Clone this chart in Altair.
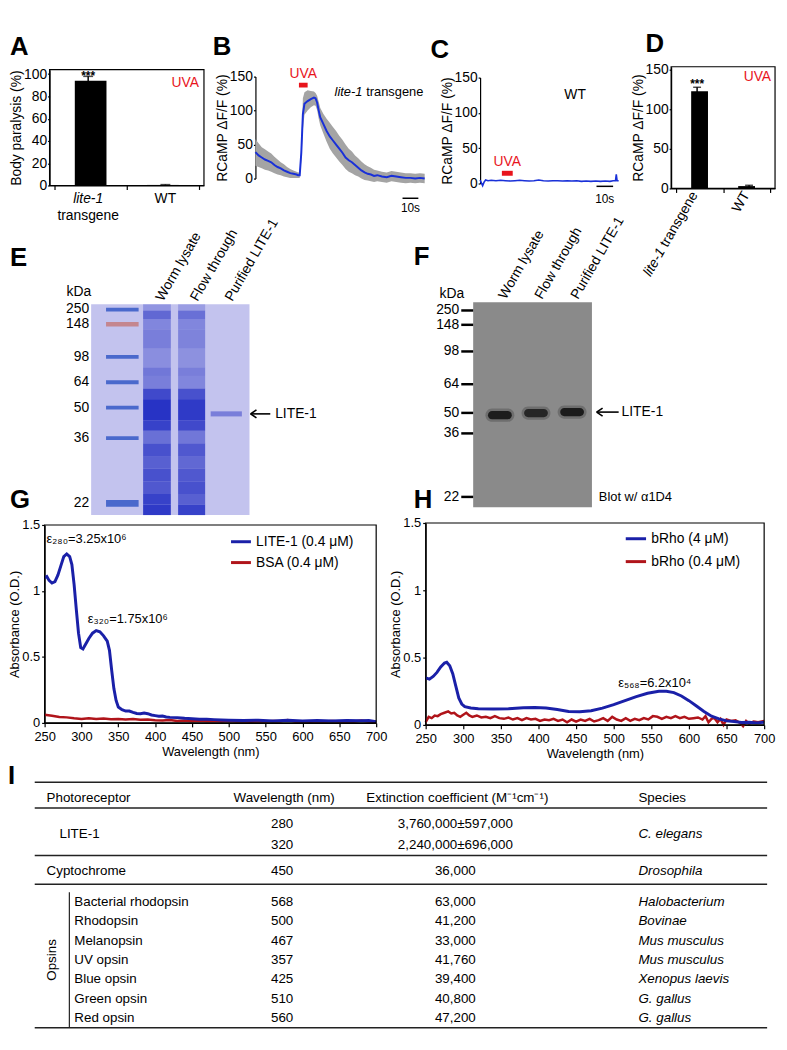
import altair as alt
import pandas as pd

W, H = 779, 1028
FONT = "Liberation Sans, Arial, Helvetica, sans-serif"
NARROW = "Liberation Sans Narrow, Arial Narrow, Liberation Sans, Arial, sans-serif"
UVA_RED = "#e8141c"
TRACE_BLUE = "#1930d8"
SPEC_BLUE = "#1a20a8"
SPEC_RED = "#b0141a"

# ------------------------------------------------------------------ data
# A: body paralysis (%)
a_groups = ["lite-1", "WT"]
a_paralysis = [94, 0.5]
a_sem = [4, 0.3]

# B: RCaMP dF/F trace, lite-1 transgene (time in s)
b_time = [0, 2, 4, 6, 8, 10, 12, 14, 16, 18, 20, 22, 24, 26, 27, 28, 29, 30, 31,
          33, 35, 37, 38, 39, 40, 41, 43, 45, 47, 49, 51, 53, 55, 57, 59, 61, 63,
          65, 67, 69, 71, 73, 75, 77, 80, 83, 86, 89, 92, 95, 98, 101, 104, 107]
b_mean = [39, 34, 31, 28, 26, 24, 20, 17, 15, 12, 10, 8, 7, 6, 5, 5, 38, 95, 110,
          114, 117, 119, 118, 112, 100, 90, 80, 70, 62, 56, 50, 44, 38, 31, 27, 24, 20,
          16, 12, 9, 7, 6, 4, 5, 3, 2, 4, 3, 2, 1, 1, 0, 1, 0]
b_upper = [58, 52, 46, 43, 40, 37, 32, 28, 24, 21, 17, 14, 12, 10, 9, 9, 50, 118, 127,
           130, 129, 128, 126, 122, 113, 104, 95, 88, 82, 76, 70, 63, 57, 50, 44, 40, 34,
           30, 25, 21, 18, 16, 13, 12, 10, 9, 11, 10, 9, 8, 8, 7, 8, 7]
b_lower = [19, 17, 15, 13, 12, 10, 8, 6, 5, 3, 2, 1, 1, 1, 1, 1, 26, 72, 94,
           100, 105, 108, 107, 101, 88, 78, 66, 54, 44, 37, 31, 25, 20, 14, 10, 8, 5,
           3, 0, -2, -3, -4, -5, -4, -5, -6, -4, -5, -6, -7, -6, -7, -6, -7]
b_uva = [27.5, 33.0]

# C: RCaMP dF/F trace, WT
c_time = [0, 0.8, 1.6, 2.5, 3.5, 5, 7, 10, 13, 16, 19, 22, 25, 28, 31, 34, 37, 40, 43,
          46, 49, 52, 55, 58, 61, 64, 67, 70, 73, 76, 79, 82, 84, 85.5, 86, 86.5, 87.5]
c_mean = [5, 1, -3, 2, 5, 4, 4.5, 4, 4.5, 4, 3.5, 4, 4.5, 4, 3.5, 4, 5, 4, 3.5,
          4, 4, 3.5, 4, 3.5, 4, 3, 3.5, 3, 3.5, 3, 3.5, 3, 4, 4, 13, 4, 4]
c_uva = [13.75, 20.6]

# D: peak RCaMP response
d_groups = ["lite-1", "WT"]
d_response = [123, 3]
d_sem = [5, 1]

# E / F: gels (relative migration 0 = top of gel, 1 = bottom)
marker_kda = ["250", "148", "98", "64", "50", "36", "22"]
e_marker_rf = [0.025, 0.095, 0.25, 0.37, 0.49, 0.635, 0.945]
f_marker_rf = [0.04, 0.11, 0.24, 0.40, 0.54, 0.64, 0.95]
lane_names = ["Worm lysate", "Flow through", "Purified LITE-1"]
e_lysate = [(0.00, 0.03, 0.30), (0.03, 0.07, 0.60), (0.07, 0.12, 0.40), (0.12, 0.21, 0.45),
            (0.21, 0.30, 0.35), (0.30, 0.34, 0.50), (0.34, 0.40, 0.45), (0.40, 0.45, 0.80),
            (0.45, 0.55, 0.95), (0.55, 0.60, 0.85), (0.60, 0.66, 0.55), (0.66, 0.72, 0.75),
            (0.72, 0.78, 0.65), (0.78, 0.84, 0.75), (0.84, 0.90, 0.70), (0.90, 0.95, 0.85),
            (0.95, 1.00, 0.90)]
e_flow = [(0.00, 0.03, 0.25), (0.03, 0.07, 0.55), (0.07, 0.12, 0.40), (0.12, 0.21, 0.42),
          (0.21, 0.30, 0.33), (0.30, 0.34, 0.45), (0.34, 0.40, 0.40), (0.40, 0.45, 0.75),
          (0.45, 0.55, 0.90), (0.55, 0.60, 0.80), (0.60, 0.66, 0.50), (0.66, 0.72, 0.70),
          (0.72, 0.78, 0.60), (0.78, 0.84, 0.70), (0.84, 0.90, 0.75), (0.90, 0.95, 0.65),
          (0.95, 1.00, 0.85)]
e_purified = [(0.508, 0.532, 0.45)]
e_lite1_rf = 0.52
f_band_rf = [0.551, 0.541, 0.536]
f_band_intensity = [0.92, 0.82, 0.95]
f_lite1_rf = 0.536

# G: absorbance spectra
g_wl_lite = [250, 253, 256, 260, 264, 268, 272, 276, 280, 284, 287, 290, 293, 296, 299, 302,
             306, 310, 315, 320, 325, 330, 335, 338, 341, 344, 347, 350, 355, 360, 365, 370,
             375, 380, 385, 390, 395, 400, 405, 410, 415, 420, 430, 440, 450, 460, 470, 480,
             490, 500, 520, 540, 560, 580, 600, 620, 640, 660, 680, 690, 700]
g_abs_lite = [1.10, 1.11, 1.08, 1.06, 1.07, 1.12, 1.19, 1.26, 1.28, 1.26, 1.20, 1.05, 0.86,
              0.68, 0.57, 0.56, 0.60, 0.64, 0.68, 0.70, 0.69, 0.66, 0.62, 0.55, 0.40, 0.26,
              0.17, 0.12, 0.10, 0.09, 0.09, 0.08, 0.072, 0.07, 0.075, 0.07, 0.06, 0.055, 0.05,
              0.052, 0.045, 0.042, 0.04, 0.035, 0.032, 0.028, 0.027, 0.025, 0.022, 0.02,
              0.018, 0.02, 0.015, 0.02, 0.015, 0.018, 0.014, 0.018, 0.016, 0.018, 0.01]
g_wl_bsa = [250, 260, 270, 280, 290, 300, 310, 320, 330, 340, 350, 360, 370, 380, 390, 400,
            410, 420, 430, 440, 450, 460, 470, 480, 490, 500, 510, 520, 530, 540, 550, 560,
            570, 580, 590, 600, 610, 620, 630, 640, 650, 660, 670, 680, 690, 700]
g_abs_bsa = [0.062, 0.055, 0.045, 0.042, 0.035, 0.03, 0.036, 0.03, 0.034, 0.028, 0.03, 0.026,
             0.03, 0.024, 0.026, 0.02, 0.018, 0.022, 0.014, 0.018, 0.012, 0.016, 0.012, 0.015,
             0.01, 0.014, 0.01, 0.012, 0.008, 0.012, 0.01, 0.014, 0.012, 0.022, 0.01, 0.012,
             0.008, 0.012, 0.01, 0.014, 0.01, 0.012, 0.01, 0.018, 0.01, 0.006]

# H: bRho spectra
h_wl_4 = [250, 255, 260, 265, 270, 275, 278, 282, 286, 290, 294, 298, 302, 310, 320, 340,
          360, 380, 395, 410, 425, 440, 455, 470, 485, 500, 515, 530, 545, 560, 570, 580,
          590, 600, 610, 620, 630, 640, 650, 660, 670, 680, 690, 700]
h_abs_4 = [0.35, 0.34, 0.36, 0.39, 0.43, 0.46, 0.465, 0.44, 0.38, 0.29, 0.20, 0.155, 0.135,
           0.125, 0.12, 0.118, 0.12, 0.128, 0.13, 0.125, 0.115, 0.10, 0.098, 0.105, 0.125,
           0.15, 0.18, 0.21, 0.235, 0.25, 0.25, 0.24, 0.215, 0.18, 0.14, 0.10, 0.065, 0.045,
           0.03, 0.025, 0.018, 0.02, 0.015, 0.02]
h_wl_04 = [250, 254, 258, 262, 266, 270, 275, 280, 284, 288, 292, 296, 300, 304, 308, 312,
           318, 324, 330, 336, 342, 348, 354, 360, 366, 372, 378, 384, 390, 396, 402, 408,
           414, 420, 426, 432, 438, 444, 450, 456, 462, 468, 474, 480, 486, 492, 498, 504,
           510, 516, 522, 528, 534, 540, 546, 552, 558, 564, 570, 576, 582, 588, 594, 600,
           606, 612, 618, 622, 626, 630, 634, 638, 642, 646, 650, 656, 662, 668, 672, 676,
           680, 686, 692, 700]
h_abs_04 = [0.02, 0.06, 0.05, 0.07, 0.065, 0.08, 0.09, 0.10, 0.085, 0.09, 0.07, 0.06, 0.075,
            0.09, 0.07, 0.06, 0.07, 0.055, 0.06, 0.05, 0.065, 0.05, 0.045, 0.055, 0.04, 0.05,
            0.035, 0.05, 0.04, 0.045, 0.03, 0.04, 0.035, 0.045, 0.03, 0.04, 0.02, 0.04, 0.025,
            0.04, 0.03, 0.045, 0.025, 0.035, 0.05, 0.03, 0.06, 0.04, 0.03, 0.05, 0.03, 0.045,
            0.035, 0.05, 0.04, 0.065, 0.06, 0.045, 0.06, 0.05, 0.065, 0.05, 0.06, 0.045, 0.05,
            0.055, 0.04, 0.065, 0.02, 0.045, 0.05, 0.02, 0.045, 0.0, 0.04, 0.03, 0.035, 0.015,
            -0.01, 0.03, 0.01, 0.025, 0.02, 0.03]

# I: table
table_header = ["Photoreceptor", "Wavelength (nm)", "Extinction coefficient (M\u207b\u00b9cm\u207b\u00b9)", "Species"]
lite_wavelength = ["280", "320"]
lite_coefficient = ["3,760,000\u00b1597,000", "2,240,000\u00b1696,000"]
lite_species = "C. elegans"
cry_row = ["Cyptochrome", "450", "36,000", "Drosophila"]
opsin_names = ["Bacterial rhodopsin", "Rhodopsin", "Melanopsin", "UV opsin", "Blue opsin",
               "Green opsin", "Red opsin"]
opsin_wavelength = ["568", "500", "467", "357", "425", "510", "560"]
opsin_coefficient = ["63,000", "41,200", "33,000", "41,760", "39,400", "40,800", "47,200"]
opsin_species = ["Halobacterium", "Bovinae", "Mus musculus", "Mus musculus", "Xenopus laevis",
                 "G. gallus", "G. gallus"]


# ------------------------------------------------------------------ helpers
def S(domain, rng):
    return alt.Scale(domain=list(domain), range=list(rng), nice=False, zero=False)


def X(field, sc, axis=None):
    return alt.X(f"{field}:Q", scale=sc, axis=axis)


def Y(field, sc, axis=None):
    return alt.Y(f"{field}:Q", scale=sc, axis=axis)


def texts(xs, ys, xv, yv, labels, **mk):
    df = pd.DataFrame({"x": xv, "y": yv, "label": labels})
    return alt.Chart(df).mark_text(**mk).encode(x=X("x", xs), y=Y("y", ys), text="label:N")


def rects(xs, ys, x1, x2, y1, y2, opacity=None, **mk):
    df = pd.DataFrame({"x": x1, "x2": x2, "y": y1, "y2": y2})
    enc = dict(x=X("x", xs), x2="x2:Q", y=Y("y", ys), y2="y2:Q")
    if opacity is not None:
        df["o"] = opacity
        enc["opacity"] = alt.Opacity("o:Q", scale=None)
    return alt.Chart(df).mark_rect(**mk).encode(**enc)


def hrules(xs, ys, x1, x2, yv, **mk):
    df = pd.DataFrame({"x": x1, "x2": x2, "y": yv})
    return alt.Chart(df).mark_rule(**mk).encode(x=X("x", xs), x2="x2:Q", y=Y("y", ys))


def vrules(xs, ys, xv, y1, y2, **mk):
    df = pd.DataFrame({"x": xv, "y": y1, "y2": y2})
    return alt.Chart(df).mark_rule(**mk).encode(x=X("x", xs), y=Y("y", ys), y2="y2:Q")


def frame(xs, ys, xd, yd):
    return rects(xs, ys, [xd[0]], [xd[1]], [yd[0]], [yd[1]],
                 fillOpacity=0, stroke="black", strokeWidth=1.2)


def left_axis(xpix, values, title, fmt=None, **kw):
    kw.update(orient="left", offset=-xpix, values=values, title=title, grid=False)
    if fmt:
        kw["format"] = fmt
    return alt.Axis(**kw)


def bottom_axis(ypix, values, title=None, labels=True, **kw):
    kw.update(orient="bottom", offset=ypix - H, values=values, title=title,
              labels=labels, grid=False, labelFlush=False, labelOverlap=False)
    return alt.Axis(**kw)


TOP_AXIS = dict(labelFontSize=14, titleFontSize=14, tickSize=2, labelPadding=1, titlePadding=0)
SPEC_Y = dict(labelFontSize=13, titleFontSize=13, tickSize=3, labelPadding=2, titlePadding=0)
SPEC_X = dict(labelFontSize=13, titleFontSize=13, tickSize=4, labelPadding=4, titlePadding=2)

ARROW = "M0,0L1.2,-0.8M0,0L1.2,0.8"


def arrow(xs, ys, x_tip, x_end, yv):
    head = alt.Chart(pd.DataFrame({"x": [x_tip], "y": [yv]})).mark_point(
        shape=ARROW, filled=False, stroke="black", strokeWidth=1.6, size=100, opacity=1
    ).encode(x=X("x", xs), y=Y("y", ys))
    return [hrules(xs, ys, [x_tip], [x_end], [yv], color="black", strokeWidth=1.6), head]


parts = []

# ------------------------------------------------------------------ panel A
xA, yA = S([0.5, 2.5], [42, 198]), S([0, 104], [174, 57])
dfA = pd.DataFrame({"x": [1, 2], "y": a_paralysis,
                    "lo": [v - e for v, e in zip(a_paralysis, a_sem)],
                    "hi": [v + e for v, e in zip(a_paralysis, a_sem)]})
parts += [
    alt.Chart(dfA).mark_bar(color="black", size=32, orient="vertical").encode(
        x=X("x", xA, bottom_axis(174, [0.5, 1.5, 2.5], labels=False, tickSize=4)),
        y=Y("y", yA, left_axis(42, [0, 20, 40, 60, 80, 100], "Body paralysis (%)", **TOP_AXIS))),
    alt.Chart(dfA).mark_rule(color="black", strokeWidth=1.5).encode(x=X("x", xA), y=Y("lo", yA), y2="hi:Q"),
    alt.Chart(dfA).mark_tick(color="black", orient="horizontal", size=10, thickness=1.5).encode(
        x=X("x", xA), y=Y("hi", yA)),
    texts(xA, yA, [1], [dfA["hi"][0]], ["***"], baseline="alphabetic", dy=4, fontSize=12, fontWeight="bold"),
    texts(xA, yA, [1], [0], [a_groups[0]], fontStyle="italic", fontSize=14, dy=14),
    texts(xA, yA, [1], [0], ["transgene"], fontSize=14, dy=31),
    texts(xA, yA, [2], [0], [a_groups[1]], fontSize=14, dy=14),
    texts(xA, yA, [2.5], [104], ["UVA"], align="right", dx=-5, dy=13, fontSize=14, color=UVA_RED),
    frame(xA, yA, [0.5, 2.5], [0, 104]),
]

# ------------------------------------------------------------------ panel B
xB, yB = S([0, 107], [250, 421]), S([0, 150], [167, 64])
dfB = pd.DataFrame({"t": b_time, "m": b_mean, "u": b_upper, "l": b_lower})
parts += [
    alt.Chart(dfB).mark_area(color="#a4a4a4").encode(
        x=X("t", xB),
        y=Y("u", yB, left_axis(250, [0, 50, 100, 150], "RCaMP \u0394F/F (%)", **TOP_AXIS)), y2="l:Q"),
    alt.Chart(dfB).mark_line(color=TRACE_BLUE, strokeWidth=2).encode(x=X("t", xB), y=Y("m", yB)),
    rects(xB, yB, [b_uva[0]], [b_uva[1]], [134], [141], color=UVA_RED),
    texts(xB, yB, [sum(b_uva) / 2], [142], ["UVA"], baseline="bottom", dy=-1, fontSize=14, color=UVA_RED),
    texts(xB, yB, [50], [127], ["lite-1"], align="left", fontStyle="italic", fontSize=13),
    texts(xB, yB, [50], [127], ["transgene"], align="left", dx=32, fontSize=13),
    hrules(xB, yB, [93], [103], [-29], color="black", strokeWidth=1.5),
    texts(xB, yB, [98], [-29], ["10s"], dy=10, fontSize=12),
]

# ------------------------------------------------------------------ panel C
xC, yC = S([0, 87.5], [477, 617]), S([0, 150], [172, 65])
dfC = pd.DataFrame({"t": c_time, "m": c_mean})
parts += [
    alt.Chart(dfC).mark_line(color=TRACE_BLUE, strokeWidth=1.6).encode(
        x=X("t", xC), y=Y("m", yC, left_axis(477, [0, 50, 100, 150], "RCaMP \u0394F/F (%)", **TOP_AXIS))),
    rects(xC, yC, [c_uva[0]], [c_uva[1]], [11], [18], color=UVA_RED),
    texts(xC, yC, [sum(c_uva) / 2], [19], ["UVA"], baseline="bottom", dy=-1, fontSize=14, color=UVA_RED),
    texts(xC, yC, [60], [126], ["WT"], fontSize=14),
    hrules(xC, yC, [73.5], [84], [-4], color="black", strokeWidth=1.5),
    texts(xC, yC, [78.7], [-4], ["10s"], dy=13, fontSize=12),
]

# ------------------------------------------------------------------ panel D
xD, yD = S([0.5, 2.5], [670, 775]), S([0, 154], [177, 54])
dfD = pd.DataFrame({"x": [1, 2], "y": d_response,
                    "lo": [v - e for v, e in zip(d_response, d_sem)],
                    "hi": [v + e for v, e in zip(d_response, d_sem)]})
parts += [
    alt.Chart(dfD).mark_bar(color="black", size=17, orient="vertical").encode(
        x=X("x", xD, bottom_axis(177, [0.5, 1.5, 2.5], labels=False, tickSize=4)),
        y=Y("y", yD, left_axis(670, [0, 50, 100, 150], "RCaMP \u0394F/F (%)", **TOP_AXIS))),
    alt.Chart(dfD).mark_rule(color="black", strokeWidth=1.5).encode(x=X("x", xD), y=Y("lo", yD), y2="hi:Q"),
    alt.Chart(dfD).mark_tick(color="black", orient="horizontal", size=8, thickness=1.5).encode(
        x=X("x", xD), y=Y("hi", yD)),
    texts(xD, yD, [1], [dfD["hi"][0]], ["***"], baseline="alphabetic", dy=1, fontSize=12, fontWeight="bold"),
    texts(xD, yD, [1], [0], ["transgene"], angle=300, align="right", dx=-5, fontSize=14),
    texts(xD, yD, [1], [0], [d_groups[0]], angle=300, align="right", dx=-71, fontSize=14, fontStyle="italic"),
    texts(xD, yD, [2], [0], [d_groups[1]], angle=300, align="right", dx=-5, fontSize=14),
    texts(xD, yD, [2.5], [154], ["UVA"], align="right", dx=-4, dy=10, fontSize=14, color=UVA_RED),
    frame(xD, yD, [0.5, 2.5], [0, 154]),
]

# ------------------------------------------------------------------ panel E (Coomassie gel)
xE, yE = S([-0.9, 3.67], [84, 244]), S([0, 1], [294, 507])
lane_half = [0.40, 0.39, 0.45]
e_rows = []
for lane, half, segs in zip([1, 2, 3], lane_half, [e_lysate, e_flow, e_purified]):
    for s, e, i in segs:
        e_rows.append((lane - half, lane + half, s, e, i))
ladder_blue = [k for k in range(len(marker_kda)) if marker_kda[k] != "148"]
ladder_red = [k for k in range(len(marker_kda)) if marker_kda[k] == "148"]
band_h = [0.016 if marker_kda[k] == "22" else 0.009 for k in range(len(marker_kda))]
parts += [
    rects(xE, yE, [-0.9], [3.67], [0], [1], color="#c3c3ee"),
    rects(xE, yE, [r[0] for r in e_rows], [r[1] for r in e_rows], [r[2] for r in e_rows],
          [r[3] for r in e_rows], opacity=[r[4] for r in e_rows], color="#1f2bc2"),
    rects(xE, yE, [-0.47] * len(ladder_blue), [0.47] * len(ladder_blue),
          [e_marker_rf[k] - band_h[k] for k in ladder_blue], [e_marker_rf[k] + band_h[k] for k in ladder_blue],
          color="#3d5fc8", opacity=[0.9] * len(ladder_blue)),
    rects(xE, yE, [-0.47], [0.47], [e_marker_rf[ladder_red[0]] - 0.011], [e_marker_rf[ladder_red[0]] + 0.011],
          color="#c4868f"),
    texts(xE, yE, [-0.9] * len(marker_kda), e_marker_rf, marker_kda, align="right", dx=-2, fontSize=14),
    texts(xE, yE, [-0.9], [0], ["kDa"], align="right", dy=-12, fontSize=14),
    texts(xE, yE, [1, 2, 3], [0, 0, 0], lane_names, angle=300, align="left", dx=5, fontSize=14),
    texts(xE, yE, [4.41], [e_lite1_rf], ["LITE-1"], align="left", fontSize=14),
] + arrow(xE, yE, 3.70, 4.27, e_lite1_rf)

# ------------------------------------------------------------------ panel F (western blot)
xF, yF = S([0.26, 3.55], [470, 590]), S([0, 1], [292, 499])
lanes = [1, 2, 3]
parts += [
    rects(xF, yF, [0.26], [3.55], [0], [1], color="#8a8a8a"),
    rects(xF, yF, [l - 0.40 for l in lanes], [l + 0.40 for l in lanes],
          [r - 0.032 for r in f_band_rf], [r + 0.032 for r in f_band_rf],
          color="#3a3a3a", opacity=[0.35] * 3, cornerRadius=7),
    rects(xF, yF, [l - 0.33 for l in lanes], [l + 0.33 for l in lanes],
          [r - 0.02 for r in f_band_rf], [r + 0.02 for r in f_band_rf],
          color="#161616", opacity=f_band_intensity, cornerRadius=5),
    hrules(xF, yF, [-0.07] * len(f_marker_rf), [0.26] * len(f_marker_rf), f_marker_rf,
           color="black", strokeWidth=2.5),
    texts(xF, yF, [-0.07] * len(marker_kda), f_marker_rf, marker_kda, align="right", dx=-2, fontSize=14),
    texts(xF, yF, [-0.07], [0], ["kDa"], align="right", dx=3, dy=-8, fontSize=14),
    texts(xF, yF, lanes, [0, 0, 0], lane_names, angle=300, align="left", dx=5, fontSize=14),
    texts(xF, yF, [4.37], [f_lite1_rf], ["LITE-1"], align="left", fontSize=14),
    texts(xF, yF, [3.74], [0.95], ["Blot w/ \u03b11D4"], align="left", fontSize=13),
] + arrow(xF, yF, 3.68, 4.29, f_lite1_rf)

# ------------------------------------------------------------------ panel G
xG, yG = S([250, 700], [37, 372]), S([0, 1.5], [717, 517])
parts += [
    alt.Chart(pd.DataFrame({"w": g_wl_bsa, "a": g_abs_bsa})).mark_line(color=SPEC_RED, strokeWidth=2.5).encode(
        x=X("w", xG, bottom_axis(717, list(range(250, 701, 50)), "Wavelength (nm)", **SPEC_X)),
        y=Y("a", yG, left_axis(37, [0, 0.5, 1, 1.5], "Absorbance (O.D.)", fmt="~g", **SPEC_Y))),
    alt.Chart(pd.DataFrame({"w": g_wl_lite, "a": g_abs_lite})).mark_line(color=SPEC_BLUE, strokeWidth=3).encode(
        x=X("w", xG), y=Y("a", yG)),
    hrules(xG, yG, [503], [530], [1.373], color=SPEC_BLUE, strokeWidth=3),
    hrules(xG, yG, [503], [530], [1.215], color=SPEC_RED, strokeWidth=3),
    texts(xG, yG, [537, 537], [1.373, 1.215], ["LITE-1 (0.4 \u03bcM)", "BSA (0.4 \u03bcM)"],
          align="left", fontSize=14),
    texts(xG, yG, [252.7], [1.39], ["\u03b5\u2082\u2088\u2080=3.25x10\u2076"], align="left", fontSize=13),
    texts(xG, yG, [308.7], [0.79], ["\u03b5\u2083\u2082\u2080=1.75x10\u2076"], align="left", fontSize=13),
    frame(xG, yG, [250, 700], [0, 1.5]),
]

# ------------------------------------------------------------------ panel H
xH, yH = S([250, 700], [422, 764]), S([0, 1.5], [719, 515])
parts += [
    alt.Chart(pd.DataFrame({"w": h_wl_04, "a": h_abs_04})).mark_line(color=SPEC_RED, strokeWidth=2.5).encode(
        x=X("w", xH, bottom_axis(719, list(range(250, 701, 50)), "Wavelength (nm)", **SPEC_X)),
        y=Y("a", yH, left_axis(422, [0, 0.5, 1, 1.5], "Absorbance (O.D.)", fmt="~g", **SPEC_Y))),
    alt.Chart(pd.DataFrame({"w": h_wl_4, "a": h_abs_4})).mark_line(color=SPEC_BLUE, strokeWidth=3).encode(
        x=X("w", xH), y=Y("a", yH)),
    hrules(xH, yH, [516], [543], [1.383], color=SPEC_BLUE, strokeWidth=3),
    hrules(xH, yH, [516], [543], [1.213], color=SPEC_RED, strokeWidth=3),
    texts(xH, yH, [550, 550], [1.383, 1.213], ["bRho (4 \u03bcM)", "bRho (0.4 \u03bcM)"],
          align="left", fontSize=14),
    texts(xH, yH, [506], [0.31], ["\u03b5\u2085\u2086\u2088=6.2x10\u2074"], align="left", fontSize=13),
    frame(xH, yH, [250, 700], [0, 1.5]),
]

# ------------------------------------------------------------------ canvas: letters + table
xT, yT = S([0, W], [0, W]), S([0, H], [0, H])
letters = ["A", "B", "C", "D", "E", "F", "G", "H", "I"]
letter_pos = {"A": (2, 42), "B": (207, 42), "C": (427, 45), "D": (644, 39), "E": (2, 255),
              "F": (410, 254), "G": (2, 500), "H": (410, 500), "I": (0, 779)}

TX = dict(name=39, lite=52, opsin=67, wl=277, coef=452, species=637, l0=27, l1=767, vline=62, opsins=44)
TY = dict(top=777, header=793, header_line=803, lite=[819, 840], lite_line=851, cry=867,
          cry_line=880, opsin0=898, step=19.5, bottom=1025)
opsin_y = [TY["opsin0"] + TY["step"] * i for i in range(len(opsin_names))]
lite_mid = sum(TY["lite"]) / 2

left_x = [TX["name"], TX["lite"], TX["name"]] + [TX["opsin"]] * len(opsin_names) + [TX["species"]]
left_y = [TY["header"], lite_mid, TY["cry"]] + opsin_y + [TY["header"]]
left_lab = [table_header[0], "LITE-1", cry_row[0]] + opsin_names + [table_header[3]]

ctr_x = ([TX["wl"] + 2, TX["coef"] + 2] + [TX["wl"]] * 2 + [TX["coef"]] * 2 + [TX["wl"], TX["coef"]]
         + [TX["wl"]] * len(opsin_names) + [TX["coef"]] * len(opsin_names))
ctr_y = ([TY["header"]] * 2 + TY["lite"] + TY["lite"] + [TY["cry"]] * 2 + opsin_y + opsin_y)
ctr_lab = ([table_header[1], table_header[2]] + lite_wavelength + lite_coefficient + cry_row[1:3]
           + opsin_wavelength + opsin_coefficient)

ital_x = [TX["species"]] * (2 + len(opsin_species))
ital_y = [lite_mid, TY["cry"]] + opsin_y
ital_lab = [lite_species, cry_row[3]] + opsin_species

line_y = [TY["top"], TY["header_line"], TY["lite_line"], TY["cry_line"], TY["bottom"]]

parts += [
    texts(xT, yT, [letter_pos[k][0] for k in letters], [letter_pos[k][1] for k in letters], letters,
          align="left", baseline="alphabetic", fontSize=26, fontWeight="bold"),
    hrules(xT, yT, [TX["l0"]] * len(line_y), [TX["l1"]] * len(line_y), line_y, color="#222", strokeWidth=1.5),
    vrules(xT, yT, [TX["vline"]], [TY["cry_line"] + 8], [TY["bottom"]], color="#222", strokeWidth=1.2),
    texts(xT, yT, left_x, left_y, left_lab, align="left", fontSize=13.5, font=NARROW),
    texts(xT, yT, ctr_x, ctr_y, ctr_lab, align="center", fontSize=13.5, font=NARROW),
    texts(xT, yT, ital_x, ital_y, ital_lab, align="left", fontSize=13.5, font=NARROW, fontStyle="italic"),
    texts(xT, yT, [TX["opsins"]], [sum(opsin_y) / len(opsin_y)], ["Opsins"], angle=270, fontSize=13.5, font=NARROW),
]

chart = alt.layer(*parts).resolve_scale(
    x="independent", y="independent"
).properties(
    width=W, height=H, padding=0, autosize=alt.AutoSizeParams(type="none")
).configure(font=FONT).configure_view(stroke=None).configure_axis(
    labelFontSize=13, titleFontSize=13, titleFontWeight="normal", labelColor="black",
    titleColor="black", domainColor="black", tickColor="black", tickSize=4,
    labelPadding=2, titlePadding=3, domainWidth=1.2, tickWidth=1.2
)

chart.save("out.html", embed_options={"renderer": "svg", "actions": False})
